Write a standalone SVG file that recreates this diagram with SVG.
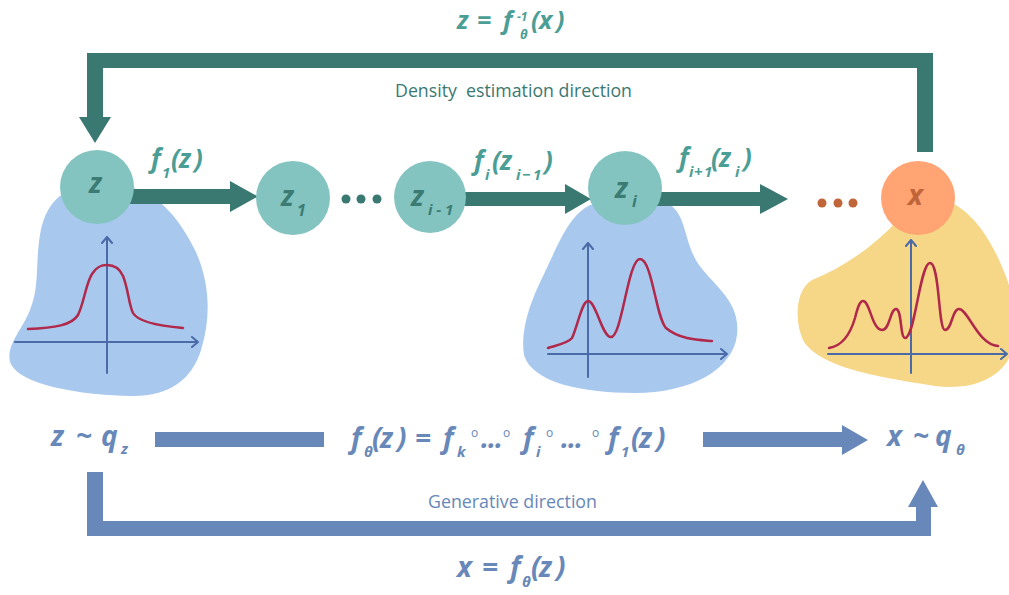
<svg xmlns="http://www.w3.org/2000/svg" width="1009" height="595" viewBox="0 0 1009 595">
<style>
.f{font-family:"Open Sans","DejaVu Sans",sans-serif;font-style:italic;font-weight:700}
.tl{fill:#4B9E95}
.bl{fill:#6788B8}
.nt{fill:#3B7B73}
.lbl{font-family:"Open Sans","DejaVu Sans",sans-serif;font-weight:500;font-size:18px;white-space:pre}
.ax{stroke:#4A6AA8;stroke-width:2;fill:none;stroke-linecap:round;stroke-linejoin:round}
.cv{stroke:#B0284A;stroke-width:2.5;fill:none;stroke-linecap:round}
.node{fill:#83C4C1}
.ring{font-family:"Open Sans","DejaVu Sans",sans-serif;font-size:12px;fill:#6788B8}
</style>
<rect width="1009" height="595" fill="#ffffff"/>

<g id="blobs">
<path id="blob-z" fill="#A8C8EE" d="M83,187 C60,190 45,205 40,235 C35,265 40,285 30,310 C22,330 6,345 10,362 C16,380 60,394 130,396 C168,397 192,380 201,350 C212,315 209,280 195,250 C180,220 160,195 133,188 Z"/>
<path id="blob-zi" fill="#A8C8EE" d="M590,205 C570,215 560,240 545,272 C530,302 520,330 524,355 C532,382 580,393 635,393 C690,393 733,370 737,335 C741,300 712,285 697,262 C684,240 686,215 670,205 Z"/>
<path id="blob-x" fill="#F6D787" d="M898,220 C872,248 842,268 812,280 C795,290 794,322 804,342 C820,366 870,376 935,386 C975,391 1000,376 1009,358 L1009,285 C997,250 978,215 950,202 Z"/>
</g>

<g id="plot-z">
<path class="ax" d="M107,373 L107,237 M102,243 L107,237 L112,243 M15,342 L198,342 M192,337 L198,342 L192,347"/>
<path class="cv" d="M28,329 C55,328 72,325 78,315 C84,303 86,283 92,274 C97,266 102,265 107,265 C113,265 119,267 123,276 C128,288 129,305 133,313 C138,322 160,326 183,328"/>
</g>
<g id="plot-zi">
<path class="ax" d="M588,377 L588,243 M583,249 L588,243 L593,249 M548,354 L727,354 M721,349 L727,354 L721,359"/>
<path class="cv" d="M548,348 C558,345 568,343 572,338 C578,325 582,301 588,301 C596,301 602,337 611,337 C622,337 628,259 640,259 C652,259 656,318 666,328 C680,340 700,340 712,341"/>
</g>
<g id="plot-x">
<path class="ax" d="M911,373 L911,240 M906,246 L911,240 L916,246 M828,354 L1007,354 M1001,349 L1007,354 L1001,359"/>
<path class="cv" d="M829,348 C842,346 850,335 855,318 C858,306 860,301 863,301 C870,301 872,330 882,330 C890,330 890,309 896,309 C902,309 900,338 905,338 C915,338 920,263 930,263 C940,263 938,330 945,330 C952,330 952,309 959,309 C968,309 978,345 998,346"/>
</g>

<g id="connectors">
<polygon id="density-bracket" fill="#3A7872" points="87,53 933,53 933,152 917,152 917,68 103,68 103,117 111,117 95,143 79,117 87,117"/>
<polygon id="arrow-z-z1" fill="#3A7872" points="125,189 230,189 230,181 258,196.5 230,212 230,204 125,204"/>
<polygon id="arrow-zim1-zi" fill="#3A7872" points="460,192 565,192 565,184 591,199 565,214 565,206 460,206"/>
<polygon id="arrow-zi-next" fill="#3A7872" points="655,192 760,192 760,184 788,199 760,214 760,206 655,206"/>
<rect id="gen-bar-left" fill="#6788B8" x="155" y="432" width="169" height="15"/>
<polygon id="gen-arrow-right" fill="#6788B8" points="703,432 842,432 842,425 868,440 842,455 842,447 703,447"/>
<polygon id="gen-bracket" fill="#6788B8" points="87,472 103,472 103,521 916,521 916,507 908,507 923,480 938,507 931,507 931,536 87,536"/>
</g>

<g id="dots">
<circle cx="346" cy="199" r="4.5" fill="#3A7872"/><circle cx="361" cy="199" r="4.5" fill="#3A7872"/><circle cx="377" cy="199" r="4.5" fill="#3A7872"/>
<circle cx="822" cy="203" r="4.5" fill="#C0643A"/><circle cx="838" cy="203" r="4.5" fill="#C0643A"/><circle cx="853" cy="203" r="4.5" fill="#C0643A"/>
</g>

<g id="node-z"><circle class="node" cx="97" cy="187" r="37"/><text class="f nt" x="89" y="193" font-size="28">z</text></g>
<g id="node-z1"><circle class="node" cx="293" cy="198" r="37"/><text class="f nt" x="281" y="206" font-size="28">z</text><text class="f nt" x="297" y="216" font-size="16">1</text></g>
<g id="node-zim1"><circle class="node" cx="430" cy="197" r="36"/><text class="f nt" x="411" y="206" font-size="28">z</text><text class="f nt" x="428" y="215" font-size="15" style="white-space:pre">i - 1</text></g>
<g id="node-zi"><circle class="node" cx="625" cy="188" r="37"/><text class="f nt" x="615" y="198" font-size="28">z</text><text class="f nt" x="632" y="207" font-size="16">i</text></g>
<g id="node-x"><circle fill="#FFA472" cx="918" cy="198" r="37"/><text class="f" fill="#C0643A" x="908" y="205" font-size="28">x</text></g>

<g id="labels">
<text class="f tl" x="457 477 503" y="29" font-size="25">z=f</text>
<text class="f tl" x="517" y="21" font-size="12">-1</text>
<text class="f tl" x="520" y="39" font-size="13">θ</text>
<text class="f tl" x="531 539 556" y="29" font-size="25">(x)</text>
<text class="lbl" fill="#3A7872" x="395" y="97" textLength="237" lengthAdjust="spacingAndGlyphs">Density  estimation direction</text>

<text class="f tl" x="151" y="168" font-size="26">f</text><text class="f tl" x="162" y="178" font-size="15">1</text><text class="f tl" x="171 179 194" y="168" font-size="26">(z)</text>
<text class="f tl" x="474" y="170" font-size="26">f</text><text class="f tl" x="485" y="180" font-size="15">i</text><text class="f tl" x="492 500" y="170" font-size="26">(z</text><text class="f tl" x="516 522 533" y="180" font-size="15">i−1</text><text class="f tl" x="544" y="170" font-size="26">)</text>
<text class="f tl" x="679" y="167" font-size="26">f</text><text class="f tl" x="689 694 704" y="177" font-size="15">i+1</text><text class="f tl" x="711 719" y="167" font-size="26">(z</text><text class="f tl" x="735" y="177" font-size="15">i</text><text class="f tl" x="743" y="167" font-size="26">)</text>

<text class="f bl" x="51 76 101" y="446" font-size="28">z~q</text><text class="f bl" x="121" y="454" font-size="15">z</text>
<text class="f bl" x="887 913 935" y="446" font-size="28">x~q</text><text class="f bl" x="956" y="455" font-size="15">θ</text>

<text class="f bl" x="351" y="448" font-size="28">f</text><text class="f bl" x="364" y="457" font-size="15">θ</text>
<text class="f bl" x="372 380 397 415 443" y="448" font-size="28">(z)=f</text>
<text class="f bl" x="457" y="457" font-size="15">k</text>
<text class="ring" x="471" y="437">o</text><text class="f bl" x="481 488 495" y="448" font-size="28">...</text><text class="ring" x="503" y="437">o</text>
<text class="f bl" x="523" y="448" font-size="28">f</text><text class="f bl" x="536" y="457" font-size="15">i</text><text class="ring" x="546" y="437">o</text>
<text class="f bl" x="561 568 575" y="448" font-size="28">...</text><text class="ring" x="592" y="437">o</text>
<text class="f bl" x="608" y="448" font-size="28">f</text><text class="f bl" x="621" y="457" font-size="15">1</text>
<text class="f bl" x="631 639 656" y="448" font-size="28">(z)</text>

<text class="lbl bl" x="428" y="508" textLength="169" lengthAdjust="spacingAndGlyphs">Generative direction</text>

<text class="f bl" x="457 482 510" y="577" font-size="28">x=f</text><text class="f bl" x="522" y="587" font-size="15">θ</text><text class="f bl" x="531 539 556" y="577" font-size="28">(z)</text>
</g>
</svg>
